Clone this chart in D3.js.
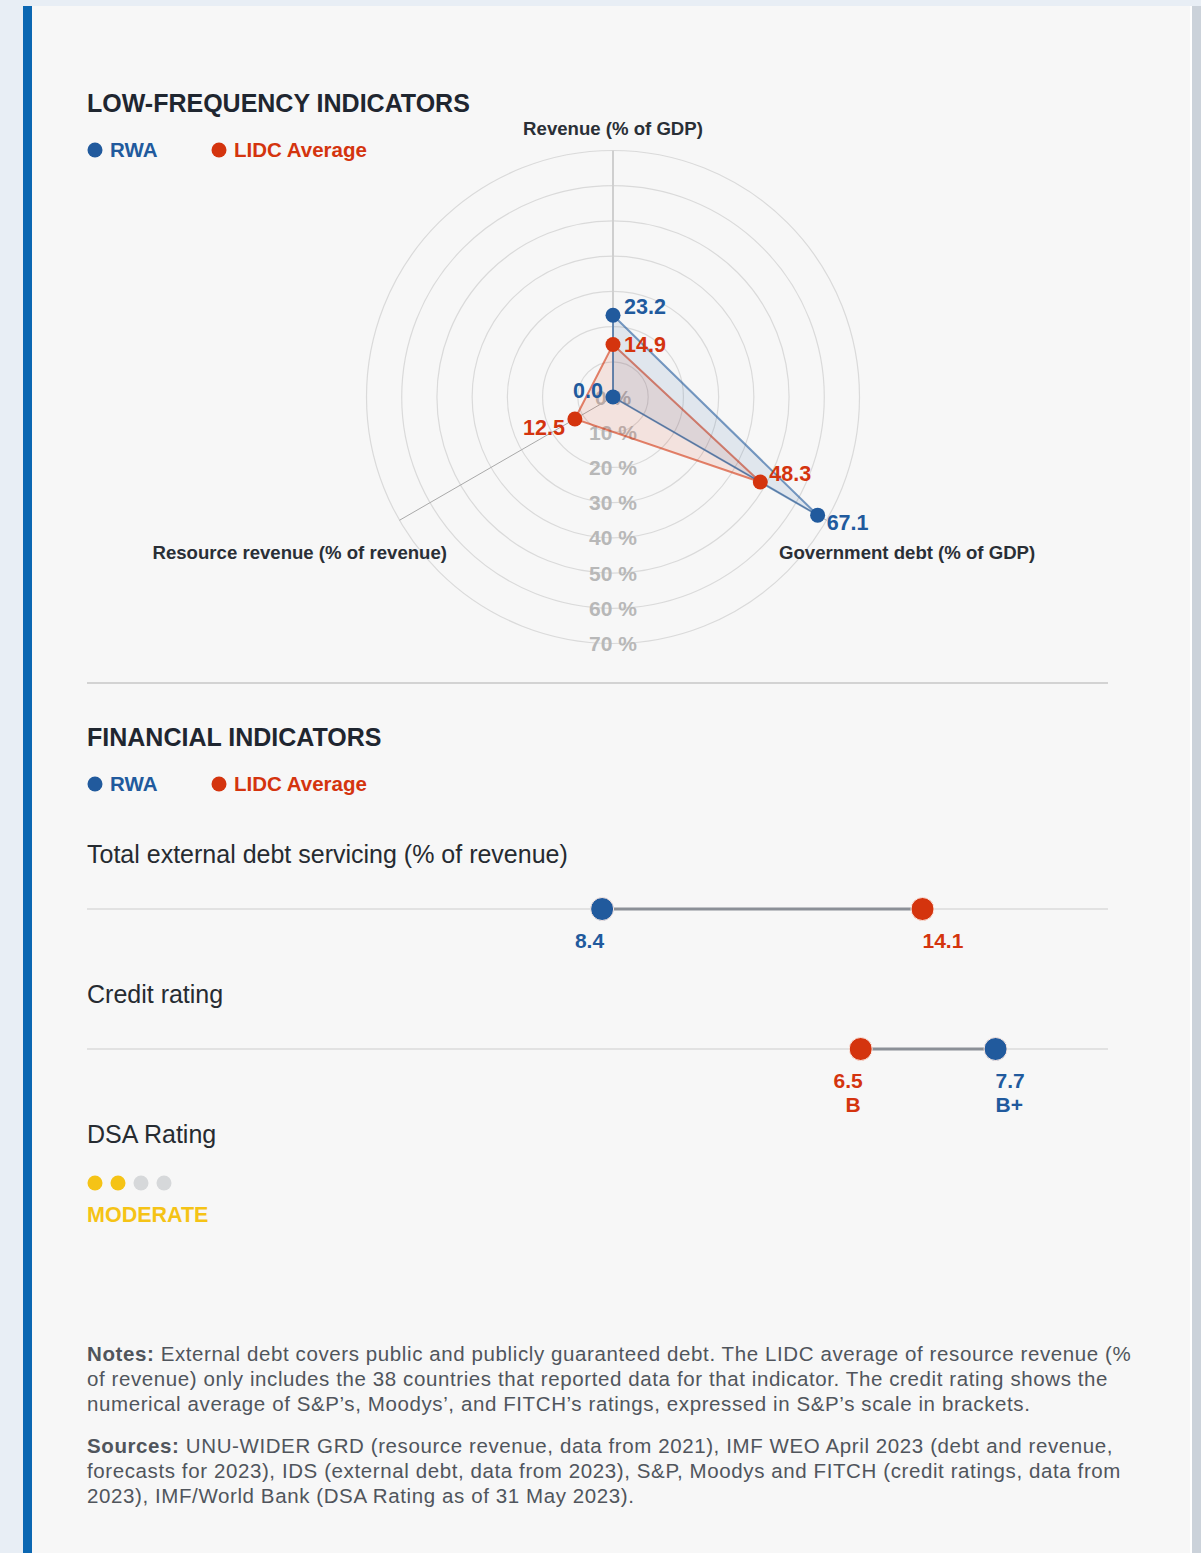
<!DOCTYPE html>
<html>
<head>
<meta charset="utf-8">
<script src="https://cdn.jsdelivr.net/npm/d3@7"></script>
<style>
  html, body { margin: 0; padding: 0; background: #e8eef5; }
  svg { display: block; font-family: "Liberation Sans", Arial, Helvetica, sans-serif; }
</style>
</head>
<body>
<div id="chart"></div>
<script>
// radar data (low-frequency indicators)
const radarAxes = ['Revenue (% of GDP)', 'Government debt (% of GDP)', 'Resource revenue (% of revenue)'];
const rwaRadar = [23.2, 67.1, 0.0];
const lidcRadar = [14.9, 48.3, 12.5];
const radarTicks = [0, 10, 20, 30, 40, 50, 60, 70];

// dumbbell data (financial indicators)
const finRows = ['Total external debt servicing (% of revenue)', 'Credit rating'];
const rwaFin = [8.4, 7.7];
const lidcFin = [14.1, 6.5];
const finExtra = [['', ''], ['B+', 'B']]; // [rwa, lidc] second line
const finMax = [17.4, 8.7];

const dsaLevels = ['low', 'moderate', 'high', 'in distress'];
const dsaRating = 2;
const dsaLabel = 'MODERATE';

const notesLines = [
  ['Notes: ', 'External debt covers public and publicly guaranteed debt. The LIDC average of resource revenue (%'],
  ['', 'of revenue) only includes the 38 countries that reported data for that indicator. The credit rating shows the'],
  ['', 'numerical average of S&P\u2019s, Moodys\u2019, and FITCH\u2019s ratings, expressed in S&P\u2019s scale in brackets.']
];
const sourcesLines = [
  ['Sources: ', 'UNU-WIDER GRD (resource revenue, data from 2021), IMF WEO April 2023 (debt and revenue,'],
  ['', 'forecasts for 2023), IDS (external debt, data from 2023), S&P, Moodys and FITCH (credit ratings, data from'],
  ['', '2023), IMF/World Bank (DSA Rating as of 31 May 2023).']
];

const width = 1201, height = 1553;
const blue = '#215a9d', red = '#d4340e', yellow = '#f5c316';
const left = 87, right = 1108;

const svg = d3.select('#chart').append('svg')
  .attr('width', width)
  .attr('height', height);

// page + card
svg.append('rect').attr('width', width).attr('height', height).attr('fill', '#e8eef5');
svg.append('rect').attr('x', 1190).attr('y', 6).attr('width', 11).attr('height', height).attr('fill', '#cbd2da');
svg.append('rect').attr('x', 32).attr('y', 6).attr('width', 1160).attr('height', height).attr('fill', '#ffffff');
svg.append('rect').attr('x', 32).attr('y', 6).attr('width', 1158).attr('height', height).attr('fill', '#f7f7f7');
svg.append('rect').attr('x', 23).attr('y', 6).attr('width', 9).attr('height', height).attr('fill', '#0b67b2');

function sectionHeader(title, y) {
  svg.append('text')
    .attr('x', left).attr('y', y)
    .attr('font-size', 25).attr('font-weight', 'bold').attr('fill', '#1f2630')
    .text(title);
  const lg = svg.append('g').attr('transform', 'translate(0,' + (y + 38) + ')');
  const items = [{ name: 'RWA', color: blue, x: left }, { name: 'LIDC Average', color: red, x: 211 }];
  items.forEach(function(d) {
    lg.append('circle').attr('cx', d.x + 8).attr('cy', 0).attr('r', 7.5).attr('fill', d.color);
    lg.append('text').attr('x', d.x + 23).attr('y', 7)
      .attr('font-size', 20.5).attr('font-weight', 'bold').attr('fill', d.color)
      .text(d.name);
  });
}

// ---------- radar ----------
sectionHeader('LOW-FREQUENCY INDICATORS', 112);

const cx = 613, cy = 397;
const r = d3.scaleLinear().domain([0, 70]).range([0, 246.5]);
const angle = function(i) { return i * 2 * Math.PI / radarAxes.length; };
const pt = function(v, i) { return [cx + r(v) * Math.sin(angle(i)), cy - r(v) * Math.cos(angle(i))]; };

const radar = svg.append('g');

radar.selectAll('.grid')
  .data(radarTicks.filter(function(t) { return t > 0; }))
  .enter().append('circle')
  .attr('cx', cx).attr('cy', cy)
  .attr('r', function(d) { return r(d); })
  .attr('fill', 'none').attr('stroke', '#dadada').attr('stroke-width', 1.2);

radar.selectAll('.spoke')
  .data(radarAxes)
  .enter().append('line')
  .attr('x1', cx).attr('y1', cy)
  .attr('x2', function(_, i) { return pt(70, i)[0]; })
  .attr('y2', function(_, i) { return pt(70, i)[1]; })
  .attr('stroke', function(_, i) { return i === 0 ? '#cfcfcf' : '#a9a9a9'; })
  .attr('stroke-width', function(_, i) { return i === 0 ? 2 : 1; });

radar.selectAll('.tick')
  .data(radarTicks)
  .enter().append('text')
  .attr('x', cx).attr('y', function(d) { return cy + r(d) + 7.5; })
  .attr('text-anchor', 'middle')
  .attr('font-size', 21).attr('font-weight', 'bold').attr('fill', '#b8b8b8')
  .text(function(d) { return d + ' %'; });

// axis titles
const axisLabelPos = [
  { x: cx, y: 135, anchor: 'middle' },
  { x: 779, y: 559, anchor: 'start' },
  { x: 447, y: 559, anchor: 'end' }
];
radar.selectAll('.axisTitle')
  .data(radarAxes)
  .enter().append('text')
  .attr('x', function(_, i) { return axisLabelPos[i].x; })
  .attr('y', function(_, i) { return axisLabelPos[i].y; })
  .attr('text-anchor', function(_, i) { return axisLabelPos[i].anchor; })
  .attr('font-size', 18.6).attr('font-weight', 'bold').attr('fill', '#2a2f36')
  .text(function(d) { return d; });

const radial = d3.lineRadial()
  .angle(function(_, i) { return angle(i); })
  .radius(function(d) { return r(d); })
  .curve(d3.curveLinearClosed);

// label offsets per axis: [dx, dy, anchor]
const labelOff = [[11, 7, 'start'], [9, 15, 'start'], [-10, 8, 'end']];
const radarSeries = [
  { values: lidcRadar, color: red, fillOp: 0.1 },
  { values: rwaRadar, color: blue, fillOp: 0.1 }
];

radarSeries.forEach(function(s) {
  radar.append('path')
    .attr('transform', 'translate(' + cx + ',' + cy + ')')
    .attr('d', radial(s.values))
    .attr('fill', s.color).attr('fill-opacity', s.fillOp)
    .attr('stroke', s.color).attr('stroke-opacity', 0.6).attr('stroke-width', 2);
});
radarSeries.forEach(function(s) {
  s.values.forEach(function(v, i) {
    const p = pt(v, i);
    radar.append('circle').attr('cx', p[0]).attr('cy', p[1]).attr('r', 7.5).attr('fill', s.color);
  });
});
radarSeries.forEach(function(s) {
  s.values.forEach(function(v, i) {
    const p = pt(v, i);
    let dy = labelOff[i][1];
    if (i === 0 && s.color === blue) dy = -1;
    if (i === 1 && s.color === red) dy = -1;
    if (i === 2 && s.color === red) dy = 16;
    if (i === 2 && s.color === blue) dy = 1;
    radar.append('text')
      .attr('x', p[0] + labelOff[i][0]).attr('y', p[1] + dy)
      .attr('text-anchor', labelOff[i][2])
      .attr('font-size', 21.5).attr('font-weight', 'bold').attr('fill', s.color)
      .text(v.toFixed(1));
  });
});

// separator
svg.append('line').attr('x1', left).attr('x2', right).attr('y1', 683).attr('y2', 683)
  .attr('stroke', '#d3d3d3').attr('stroke-width', 2);

// ---------- dumbbells ----------
sectionHeader('FINANCIAL INDICATORS', 746);

const rowTop = [863, 1003];
finRows.forEach(function(name, i) {
  const g = svg.append('g');
  const x = d3.scaleLinear().domain([0, finMax[i]]).range([130, right]);
  const y = rowTop[i] + 46;
  g.append('text').attr('x', left).attr('y', rowTop[i])
    .attr('font-size', 25).attr('fill', '#262b31').text(name);
  g.append('line').attr('x1', left).attr('x2', right).attr('y1', y).attr('y2', y)
    .attr('stroke', '#e2e2e2').attr('stroke-width', 2);
  const pts = [
    { v: rwaFin[i], color: blue, extra: finExtra[i][0] },
    { v: lidcFin[i], color: red, extra: finExtra[i][1] }
  ];
  const lo = d3.min(pts, function(d) { return d.v; });
  g.append('line')
    .attr('x1', x(d3.min(pts, function(d) { return d.v; })))
    .attr('x2', x(d3.max(pts, function(d) { return d.v; })))
    .attr('y1', y).attr('y2', y)
    .attr('stroke', '#8b9097').attr('stroke-width', 3);
  pts.forEach(function(d) {
    g.append('circle').attr('cx', x(d.v)).attr('cy', y).attr('r', 11.5)
      .attr('fill', d.color).attr('stroke', '#fbe9e3').attr('stroke-width', 1);
    const isLow = d.v === lo;
    g.append('text')
      .attr('x', isLow ? x(d.v) + 2 : x(d.v))
      .attr('y', y + 39)
      .attr('text-anchor', isLow ? 'end' : 'start')
      .attr('font-size', 21).attr('font-weight', 'bold').attr('fill', d.color)
      .text(d.v.toFixed(1));
    if (d.extra) {
      g.append('text')
        .attr('x', isLow ? x(d.v) : x(d.v))
        .attr('y', y + 63)
        .attr('text-anchor', isLow ? 'end' : 'start')
        .attr('font-size', 21).attr('font-weight', 'bold').attr('fill', d.color)
        .text(d.extra);
    }
  });
});

// ---------- DSA rating ----------
svg.append('text').attr('x', left).attr('y', 1143)
  .attr('font-size', 25).attr('fill', '#262b31').text('DSA Rating');
svg.selectAll('.dsa')
  .data(dsaLevels)
  .enter().append('circle')
  .attr('cx', function(_, i) { return 95 + i * 23; })
  .attr('cy', 1183).attr('r', 7.5)
  .attr('fill', function(_, i) { return i < dsaRating ? yellow : '#d6d8da'; });
svg.append('text').attr('x', left).attr('y', 1222)
  .attr('font-size', 21.5).attr('font-weight', 'bold').attr('fill', yellow)
  .text(dsaLabel);

// ---------- notes ----------
function para(lines, y0) {
  lines.forEach(function(l, i) {
    const t = svg.append('text').attr('x', left).attr('y', y0 + i * 25)
      .attr('font-size', 20.5).attr('letter-spacing', 0.6).attr('fill', '#50555c');
    if (l[0]) t.append('tspan').attr('font-weight', 'bold').text(l[0]);
    t.append('tspan').text(l[1]);
  });
}
para(notesLines, 1361);
para(sourcesLines, 1453);
</script>
</body>
</html>
